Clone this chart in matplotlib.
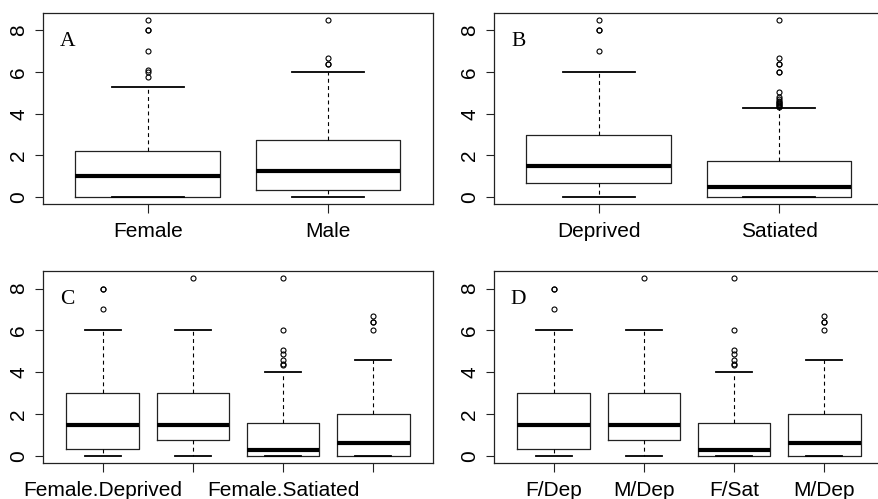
import matplotlib
matplotlib.use("Agg")
import matplotlib.pyplot as plt

# ---------------- data ----------------
sex_labels = ["Female", "Male"]
sex_q1 = [0.0, 0.33]
sex_med = [1.0, 1.24]
sex_q3 = [2.22, 2.72]
sex_lo = [0.0, 0.0]
sex_hi = [5.3, 6.0]
sex_fliers = [[8.5, 8.0, 8.0, 7.0, 6.1, 6.0, 5.75],
              [8.5, 6.7, 6.4, 6.4]]

state_labels = ["Deprived", "Satiated"]
state_q1 = [0.68, 0.0]
state_med = [1.5, 0.48]
state_q3 = [2.98, 1.71]
state_lo = [0.0, 0.0]
state_hi = [6.0, 4.25]
state_fliers = [[8.5, 8.0, 8.0, 7.0],
                [8.5, 6.7, 6.4, 6.4, 6.0, 6.0, 5.05, 4.8, 4.7, 4.6,
                 4.55, 4.5, 4.45, 4.4, 4.35, 4.3]]

grp_labels_c = ["Female.Deprived", "Male.Deprived", "Female.Satiated", "Male.Satiated"]
grp_shown_c = ["Female.Deprived", "", "Female.Satiated", ""]
grp_labels_d = ["F/Dep", "M/Dep", "F/Sat", "M/Dep"]
grp_q1 = [0.33, 0.76, 0.0, 0.0]
grp_med = [1.5, 1.5, 0.3, 0.6]
grp_q3 = [3.0, 3.0, 1.58, 2.0]
grp_lo = [0.0, 0.0, 0.0, 0.0]
grp_hi = [6.0, 6.0, 4.0, 4.6]
grp_fliers = [[8.0, 8.0, 7.0],
              [8.5],
              [8.5, 6.0, 5.05, 4.85, 4.6, 4.4, 4.35],
              [6.7, 6.4, 6.4, 6.0]]

panel_letters = ["A", "B", "C", "D"]
yticks = [0, 2, 4, 6, 8]

# ---------------- drawing ----------------
W, H = 879, 499
fig = plt.figure(figsize=(W / 100, H / 100), dpi=100)

def frac_axes(left, top, right, bottom):
    return fig.add_axes([left / W, 1 - bottom / H, (right - left) / W, (bottom - top) / H])

def draw(ax, labels, q1, med, q3, lo, hi, fl, ticklabels, letter):
    n = len(labels)
    stats = []
    for i in range(n):
        stats.append(dict(label=labels[i], q1=q1[i], med=med[i], q3=q3[i],
                          whislo=lo[i], whishi=hi[i], fliers=fl[i]))
    pos = list(range(1, n + 1))
    ax.bxp(stats, positions=pos, widths=0.8, capwidths=0.4,
           showfliers=True, patch_artist=False,
           boxprops=dict(color="#222222", linewidth=0.9),
           medianprops=dict(color="black", linewidth=3.0, solid_capstyle="butt"),
           whiskerprops=dict(color="black", linewidth=0.8, linestyle=(0, (3.5, 3))),
           capprops=dict(color="black", linewidth=1.3),
           flierprops=dict(marker="o", markersize=3.6, markerfacecolor="none",
                           markeredgecolor="black", markeredgewidth=0.8, linestyle="none"))
    ext = 0.04 * n
    ax.set_xlim(0.5 - ext, n + 0.5 + ext)
    ax.set_ylim(-0.34, 8.84)
    ax.set_xticks(pos)
    ax.set_xticklabels(ticklabels, fontsize=15, fontfamily="Liberation Sans")
    ax.set_yticks(yticks)
    ax.set_yticklabels([str(v) for v in yticks], fontsize=15,
                       fontfamily="Liberation Sans", rotation=90, va="center")
    ax.tick_params(axis="x", length=6.5, width=0.8, pad=6.5, color="#222222")
    ax.tick_params(axis="y", length=5.5, width=0.8, pad=5, color="#222222")
    for sp in ax.spines.values():
        sp.set_linewidth(0.9)
        sp.set_color("#222222")
    ax.text(0.063, 0.852, letter, transform=ax.transAxes, ha="center", va="center",
            fontsize=15.5, fontfamily="Liberation Serif")

axA = frac_axes(43, 13, 433, 204)
axB = frac_axes(494, 13, 884, 204)
axC = frac_axes(43, 271, 433, 463)
axD = frac_axes(494, 271, 884, 463)

draw(axA, sex_labels, sex_q1, sex_med, sex_q3, sex_lo, sex_hi, sex_fliers, sex_labels, panel_letters[0])
draw(axB, state_labels, state_q1, state_med, state_q3, state_lo, state_hi, state_fliers, state_labels, panel_letters[1])
draw(axC, grp_labels_c, grp_q1, grp_med, grp_q3, grp_lo, grp_hi, grp_fliers, grp_shown_c, panel_letters[2])
draw(axD, grp_labels_d, grp_q1, grp_med, grp_q3, grp_lo, grp_hi, grp_fliers, grp_labels_d, panel_letters[3])

fig.savefig("out.png", dpi=100)
